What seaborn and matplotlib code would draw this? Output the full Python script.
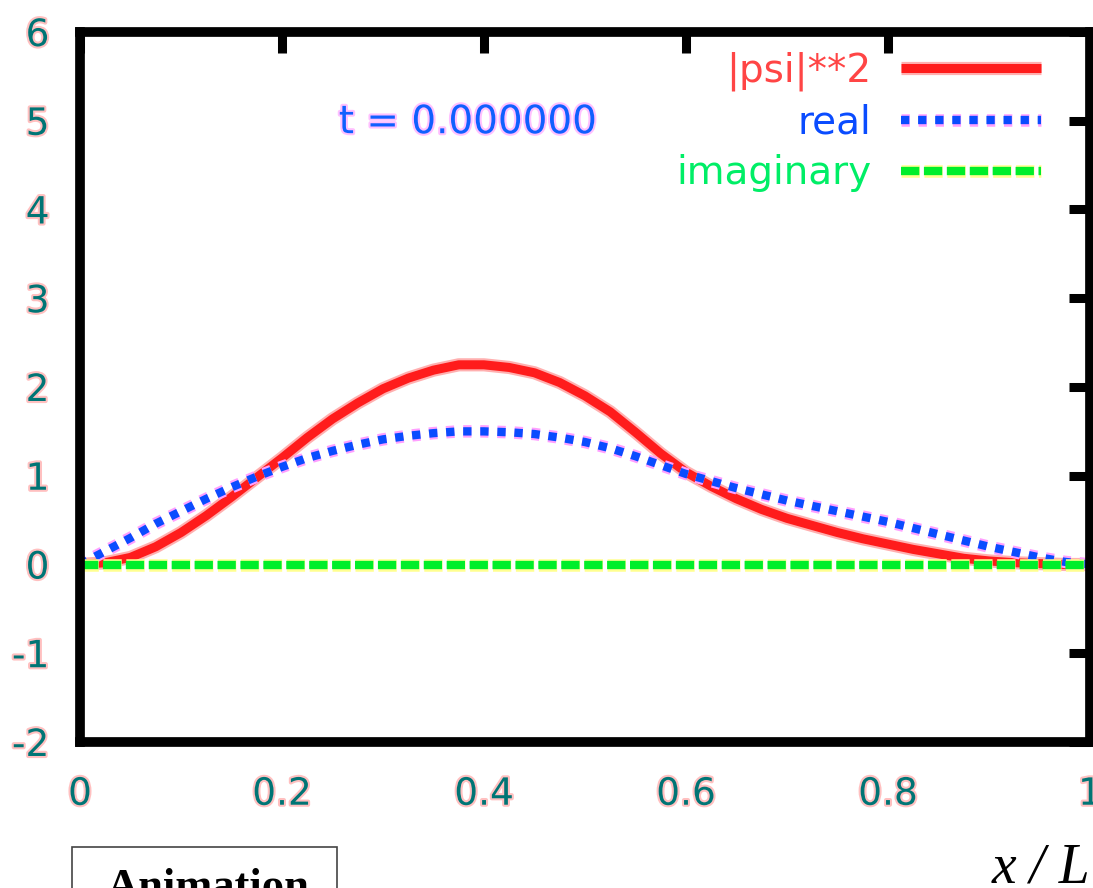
import numpy as np
import pandas as pd
import matplotlib
matplotlib.use("Agg")
import matplotlib.pyplot as plt
import matplotlib.patheffects as pe
from matplotlib.patches import Rectangle
import seaborn as sns

# values (t = 0 snapshot), step 0.025 in x/L
x_pos = [0.0, 0.025, 0.05, 0.075, 0.1, 0.125, 0.15, 0.175, 0.2, 0.225,
         0.25, 0.275, 0.3, 0.325, 0.35, 0.375, 0.4, 0.425, 0.45, 0.475,
         0.5, 0.525, 0.55, 0.575, 0.6, 0.625, 0.65, 0.675, 0.7, 0.725,
         0.75, 0.775, 0.8, 0.825, 0.85, 0.875, 0.9, 0.925, 0.95, 0.975, 1.0]
psi_sq = [0.0, 0.02, 0.08, 0.2, 0.36, 0.55, 0.76, 0.98, 1.2, 1.43,
          1.64, 1.82, 1.98, 2.1, 2.19, 2.25, 2.25, 2.22, 2.16, 2.05,
          1.9, 1.72, 1.49, 1.25, 1.04, 0.88, 0.74, 0.62, 0.52, 0.44,
          0.36, 0.29, 0.23, 0.17, 0.12, 0.07, 0.04, 0.02, 0.01, 0.0, 0.0]
psi_real = [0.0, 0.15, 0.3, 0.46, 0.6, 0.74, 0.87, 0.99, 1.1, 1.2,
            1.28, 1.35, 1.41, 1.45, 1.48, 1.5, 1.5, 1.49, 1.47, 1.43,
            1.38, 1.31, 1.22, 1.12, 1.02, 0.94, 0.86, 0.79, 0.72, 0.66,
            0.6, 0.54, 0.48, 0.41, 0.34, 0.27, 0.2, 0.14, 0.08, 0.03, 0.0]
psi_imag = [0.0] * len(x_pos)

x_ticks = [0, 0.2, 0.4, 0.6, 0.8, 1]
x_ticklabels = ["0", "0.2", "0.4", "0.6", "0.8", "1"]
y_ticks = [-2, -1, 0, 1, 2, 3, 4, 5, 6]

df = pd.DataFrame({"x": x_pos, "psi2": psi_sq, "real": psi_real, "imag": psi_imag})

sns.set_style("white")
plt.rcParams["axes.unicode_minus"] = False
plt.rcParams["font.family"] = ["DejaVu Sans"]

fig = plt.figure(figsize=(10.93, 8.88), dpi=100)
ax = fig.add_axes([80 / 1093, 1 - 742 / 888, 1010 / 1093, 710 / 888])

red = "#ff1c1c"
blue = "#0a4cff"
green = "#00ee2a"

sns.lineplot(data=df, x="x", y="psi2", ax=ax, color=red, lw=6.5,
             label="|psi|**2", solid_capstyle="butt")
sns.lineplot(data=df, x="x", y="real", ax=ax, color=blue, lw=6,
             label="real", dashes=(1, 1.05), dash_capstyle="butt")
sns.lineplot(data=df, x="x", y="imag", ax=ax, color=green, lw=6,
             label="imaginary", dashes=(2.2, 0.55), dash_capstyle="butt")

halos = {0: "#ffb0b0", 1: "#ffa0ff", 2: "#ffff90"}
for i, ln in enumerate(ax.get_lines()[:3]):
    ln.set_path_effects([pe.Stroke(linewidth=ln.get_linewidth() + 3,
                                   foreground=halos[i]), pe.Normal()])

ax.set_xlim(0, 1)
ax.set_ylim(-2, 6)
ax.set_xticks(x_ticks)
ax.set_xticklabels(x_ticklabels)
ax.set_yticks(y_ticks)
ax.set_xlabel("")
ax.set_ylabel("")

for s in ax.spines.values():
    s.set_visible(True)
    s.set_color("black")
    s.set_linewidth(7)
ax.tick_params(direction="in", length=15, width=6.5, color="black",
               top=True, right=True, labelsize=27, labelcolor="#007575")
ax.tick_params(axis="x", pad=25)
ax.tick_params(axis="y", pad=22)
for lab in ax.get_xticklabels() + ax.get_yticklabels():
    lab.set_path_effects([pe.withStroke(linewidth=3, foreground="#ffc0c0")])

leg = ax.legend(loc="upper right", bbox_to_anchor=(0.951, 0.972), frameon=False,
                markerfirst=False, fontsize=28, handlelength=3.6,
                handletextpad=0.75, labelspacing=0.32, borderpad=0,
                borderaxespad=0)
for txt, c in zip(leg.get_texts(), ["#ff4545", blue, "#00ee66"]):
    txt.set_color(c)

ax.text(0.384, 0.873, "t = 0.000000", transform=ax.transAxes, fontsize=28,
        color="#1060ff", ha="center", va="center",
        path_effects=[pe.withStroke(linewidth=3, foreground="#ffc0ff")])

# caption pieces below the plot
fig.patches.append(Rectangle((72 / 1093, -0.05), 265 / 1093, 0.05 + 1 - 847 / 888,
                             transform=fig.transFigure, fill=False,
                             edgecolor="#444444", lw=1.2))
fig.text(107 / 1093, 1 - 868 / 888, "Animation", fontsize=32, fontweight="bold",
         family="Liberation Serif", ha="left", va="top", color="black")
fig.text(1090 / 1093, 1 - 882 / 888, "x / L", fontsize=40, style="italic",
         family="Liberation Serif", ha="right", va="baseline", color="black")

fig.savefig("out.png", dpi=100)
